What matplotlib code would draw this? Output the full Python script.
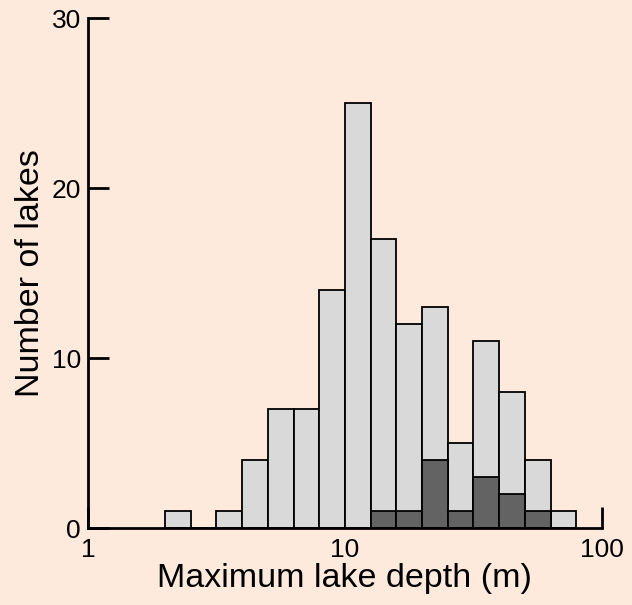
import numpy as np
import matplotlib.pyplot as plt
from matplotlib.ticker import FixedLocator, FixedFormatter, NullLocator

plt.rcParams['font.family'] = ['Liberation Sans', 'DejaVu Sans']

# bins are 0.1 decade wide, from 10^0.3 (2.0 m) to 10^1.9 (79 m)
bin_exp = [0.3, 0.4, 0.5, 0.6, 0.7, 0.8, 0.9, 1.0, 1.1, 1.2, 1.3, 1.4, 1.5, 1.6, 1.7, 1.8]
all_lakes = [1, 0, 1, 4, 7, 7, 14, 25, 17, 12, 13, 5, 11, 8, 4, 1]
subset = [0, 0, 0, 0, 0, 0, 0, 0, 1, 1, 4, 1, 3, 2, 1, 0]

bg = '#fdeadc'
light = '#d9d9d9'
dark = '#636363'

left = 10 ** np.array(bin_exp)
right = 10 ** (np.array(bin_exp) + 0.1)
width = right - left

fig = plt.figure(figsize=(6.32, 6.05), dpi=100, facecolor=bg)
ax = fig.add_axes([0.139, 0.127, 0.8135, 0.843])
ax.set_facecolor(bg)

ax.bar(left, all_lakes, width=width, align='edge', color=light,
       edgecolor='black', linewidth=1.3, zorder=3)
ax.bar(left, subset, width=width, align='edge', color=dark,
       edgecolor='black', linewidth=1.3, zorder=4)

ax.set_xscale('log')
ax.set_xlim(1, 100)
ax.set_ylim(0, 30)
ax.xaxis.set_major_locator(FixedLocator([1, 10, 100]))
ax.xaxis.set_major_formatter(FixedFormatter(['1', '10', '100']))
ax.xaxis.set_minor_locator(NullLocator())
ax.set_yticks([0, 10, 20, 30])

for s in ['top', 'right']:
    ax.spines[s].set_visible(False)
for s in ['left', 'bottom']:
    ax.spines[s].set_linewidth(2)
    ax.spines[s].set_zorder(5)

ax.tick_params(direction='in', length=15, width=2, labelsize=19)
ax.tick_params(axis='x', pad=7)
ax.tick_params(axis='y', pad=5)
ax.set_xlabel('Maximum lake depth (m)', fontsize=24.5, labelpad=1)
ax.set_ylabel('Number of lakes', fontsize=24.5, labelpad=4)

fig.savefig('out.png', dpi=100, facecolor=bg)
